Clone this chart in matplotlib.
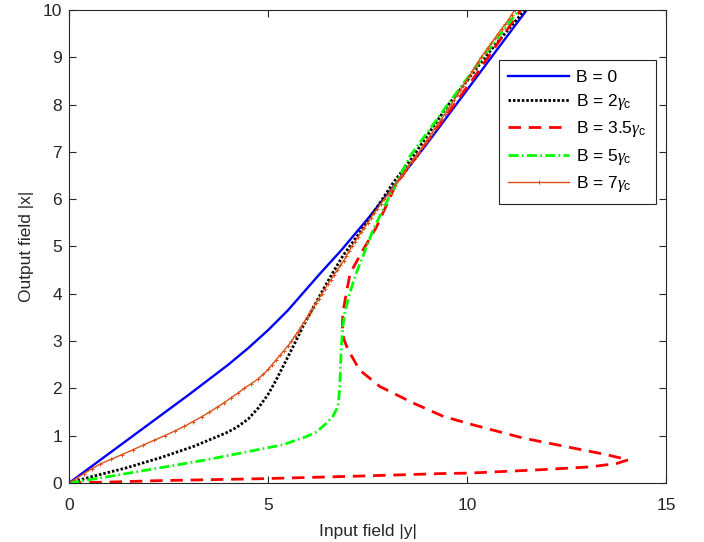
import matplotlib
matplotlib.use("Agg")
import matplotlib.pyplot as plt

plt.rcParams['font.family'] = ['Liberation Sans', 'DejaVu Sans']
plt.rcParams['mathtext.fontset'] = 'custom'
plt.rcParams['mathtext.it'] = 'Liberation Serif:italic'
plt.rcParams['mathtext.rm'] = 'Liberation Sans'

# ---- data (input |y|, output |x|) ----
b0_in = [0, 1.0, 2.0, 3.0, 4.0, 4.5, 5.0, 5.5, 5.8, 6.3, 6.85, 6.95, 7.5, 8.3, 9.0,
         9.94, 10.7, 11.5]
b0_out = [0, 0.62, 1.24, 1.86, 2.5, 2.85, 3.23, 3.65, 3.94, 4.42, 4.93, 5.03, 5.58, 6.42,
          7.18, 8.24, 9.1, 10.0]

b2_in = [0, 0.6, 1.44, 2.28, 3.12, 3.95, 4.2, 4.5, 4.75, 5.0, 5.2, 5.46, 5.67, 5.88,
         6.13, 6.38, 6.63, 6.88, 7.48, 8.14, 8.6, 9.49, 10.5, 11.45]
b2_out = [0, 0.14, 0.32, 0.53, 0.77, 1.06, 1.17, 1.35, 1.58, 1.87, 2.17, 2.6, 2.95, 3.31,
          3.7, 4.08, 4.45, 4.8, 5.5, 6.34, 6.85, 7.95, 9.05, 10.0]

b35_in = [0, 1.0, 2.28, 4.79, 7.05, 9.4, 10.07, 11.83, 13.08, 13.75, 14.05,
          13.5, 12.66, 11.41, 10.15, 9.4, 8.65, 7.81, 7.3, 7.01, 6.9,
          6.87, 6.88, 6.97, 7.05, 7.14, 7.39, 7.73, 8.23, 9.0, 10.2, 11.35]
b35_out = [0, 0.02, 0.05, 0.09, 0.14, 0.2, 0.21, 0.28, 0.34, 0.41, 0.49,
           0.6, 0.74, 0.95, 1.23, 1.41, 1.69, 2.04, 2.39, 2.82, 3.05,
           3.31, 3.59, 4.03, 4.37, 4.55, 4.93, 5.42, 6.34, 7.22, 8.6, 10.0]

b5_in = [0, 1.02, 2.28, 3.45, 4.54, 5.38, 5.96, 6.22, 6.45, 6.63, 6.76, 6.8, 6.82,
         6.84, 6.88, 6.93, 7.05, 7.2, 7.35, 7.64, 7.97, 8.56, 9.48, 10.4, 11.3]
b5_out = [0, 0.14, 0.32, 0.49, 0.67, 0.81, 0.98, 1.08, 1.25, 1.41, 1.62, 2.0, 2.4,
          2.85, 3.3, 3.59, 4.0, 4.4, 4.72, 5.35, 5.92, 6.9, 7.96, 9.0, 10.0]

b7_out = [0, 0.1, 0.2, 0.3, 0.4, 0.5, 0.6, 0.7, 0.8, 0.9,
          1.0, 1.1, 1.2, 1.3, 1.4, 1.5, 1.6, 1.7, 1.8, 1.9,
          2.0, 2.1, 2.2, 2.3, 2.4, 2.5, 2.6, 2.7, 2.8, 2.9,
          3.0, 3.1, 3.2, 3.3, 3.4, 3.5, 3.6, 3.7, 3.8, 3.9,
          4.0, 4.1, 4.2, 4.3, 4.4, 4.5, 4.6, 4.7, 4.8, 4.9,
          5.0, 5.1, 5.2, 5.3, 5.4, 5.5, 5.6, 5.7, 5.8, 5.9,
          6.0, 6.1, 6.2, 6.3, 6.4, 6.5, 6.6, 6.7, 6.8, 6.9,
          7.0, 7.1, 7.2, 7.3, 7.4, 7.5, 7.6, 7.7, 7.8, 7.9,
          8.0, 8.1, 8.2, 8.3, 8.4, 8.5, 8.6, 8.7, 8.8, 8.9,
          9.0, 9.1, 9.2, 9.3, 9.4, 9.5, 9.6, 9.7, 9.8, 9.9, 10.0]
b7_in = [0, 0.19, 0.38, 0.57, 0.78, 1.05, 1.33, 1.6, 1.86, 2.13,
         2.4, 2.66, 2.9, 3.12, 3.33, 3.53, 3.72, 3.9, 4.07, 4.24,
         4.4, 4.58, 4.75, 4.88, 5.0, 5.1, 5.2, 5.3, 5.4, 5.5,
         5.59, 5.67, 5.75, 5.83, 5.9, 5.98, 6.05, 6.13, 6.2, 6.28,
         6.35, 6.43, 6.5, 6.58, 6.66, 6.74, 6.82, 6.9, 6.97, 7.04,
         7.1, 7.18, 7.26, 7.34, 7.42, 7.5, 7.58, 7.66, 7.75, 7.83,
         7.92, 8.01, 8.1, 8.18, 8.27, 8.36, 8.45, 8.53, 8.62, 8.71,
         8.8, 8.88, 8.96, 9.04, 9.12, 9.2, 9.28, 9.36, 9.45, 9.52,
         9.6, 9.68, 9.75, 9.83, 9.9, 9.98, 10.05, 10.13, 10.2, 10.28,
         10.35, 10.44, 10.52, 10.61, 10.7, 10.78, 10.87, 10.96, 11.05, 11.12, 11.2]

labels = ['B = 0', r'B = 2$\mathit{\gamma}_\mathrm{c}$', r'B = 3.5$\mathit{\gamma}_\mathrm{c}$',
          r'B = 5$\mathit{\gamma}_\mathrm{c}$', r'B = 7$\mathit{\gamma}_\mathrm{c}$']
x_ticks = [0, 5, 10, 15]
y_ticks = list(range(0, 11))

fig = plt.figure(figsize=(7.04, 5.42), dpi=100)
ax = fig.add_axes([69/704, 1 - 483/542, (666 - 69)/704, (483 - 10)/542])

ax.plot(b0_in, b0_out, color=(0, 0, 1), lw=1.7, label=labels[0])
ax.plot(b2_in, b2_out, color='black', lw=2.0, dashes=(0.9, 0.7), label=labels[1])
ax.plot(b35_in, b35_out, color=(1, 0, 0), lw=2.0, dashes=(4.5, 2.8), label=labels[2])
ax.plot(b5_in, b5_out, color=(0, 1, 0), lw=2.0, dashes=(3.6, 1.2, 0.6, 1.2), label=labels[3])
ax.plot(b7_in, b7_out, color=(0.85, 0.325, 0.098), lw=1.0, marker='+', ms=3.5, mew=0.7,
        label=labels[4])

ax.set_xlim(0, 15)
ax.set_ylim(0, 10)
ax.set_xticks(x_ticks)
ax.set_yticks(y_ticks)
ax.tick_params(direction='in', top=True, right=True, length=5, width=0.8,
               labelsize=12.5, colors='#262626')
ax.tick_params(axis='x', pad=10.5)
ax.tick_params(axis='y', pad=5)
for s in ax.spines.values():
    s.set_color('#262626')
    s.set_linewidth(0.8)
ax.set_xlabel('Input field |y|', fontsize=12.5, color='#262626', labelpad=8)
ax.set_ylabel('Output field |x|', fontsize=12.5, color='#262626', labelpad=6)

leg = ax.legend(loc='upper right', bbox_to_anchor=(0.983, 0.894), borderaxespad=0,
                fontsize=12.5, handlelength=3.5, labelspacing=0.42, fancybox=False,
                framealpha=1, edgecolor='#262626', borderpad=0.55, handletextpad=0.4)
leg.get_frame().set_linewidth(0.8)

fig.savefig('out.png', dpi=100)
